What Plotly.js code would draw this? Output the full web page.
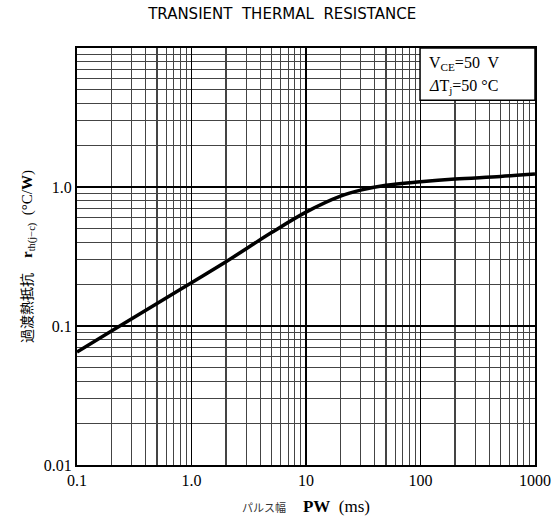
<!DOCTYPE html>
<html>
<head>
<meta charset="utf-8">
<script src="https://cdn.plot.ly/plotly-3.0.1.min.js"></script>
<style>html,body{margin:0;padding:0;background:#fff;}#chart{width:560px;height:517px;}</style>
</head>
<body>
<div id="chart"></div>
<script>
const pulseWidth = [0.1, 0.2, 0.5, 1, 2, 5, 10, 20, 30, 50, 100, 200, 500, 1000];
const thermalRes = [0.065, 0.092, 0.145, 0.205, 0.29, 0.47, 0.66, 0.86, 0.95, 1.03, 1.09, 1.14, 1.19, 1.24];
const xTickVals = [0.1, 1, 10, 100, 1000];
const xTickText = ["0.1", "1.0", "10", "100", "1000"];
const yTickVals = [0.01, 0.1, 1];
const yTickText = ["0.01", "0.1", "1.0"];

const tickFont = {family: "Liberation Serif, serif", size: 16, color: "#000"};

const trace = {
  x: pulseWidth, y: thermalRes, type: "scatter", mode: "lines",
  line: {color: "#000", width: 3.5, shape: "spline", smoothing: 1},
  hoverinfo: "skip"
};

const layout = {
  width: 560, height: 517,
  margin: {l: 77, r: 25, t: 48, b: 52},
  paper_bgcolor: "#fff", plot_bgcolor: "#fff",
  showlegend: false,
  title: {text: "TRANSIENT  THERMAL  RESISTANCE", x: 0.448, xref: "paper", xanchor: "center", y: 0.973, yanchor: "middle",
          font: {family: "DejaVu Sans, sans-serif", size: 15, color: "#000"}},
  xaxis: {
    type: "log", range: [-1, 3],
    tickvals: xTickVals, ticktext: xTickText, tickfont: tickFont,
    ticks: "", showgrid: true, gridcolor: "#000", gridwidth: 1.3,
    minor: {dtick: "D1", showgrid: true, gridcolor: "#444", gridwidth: 1.1, ticks: ""},
    showline: true, linecolor: "#000", linewidth: 2, mirror: true, zeroline: false,
    title: {text: "<span style='font-family:Noto Sans CJK JP;font-size:11px;color:#333'>パルス幅</span>    <b>PW</b>  (ms)",
            font: {family: "Liberation Serif, serif", size: 17, color: "#000"}, standoff: 12}
  },
  yaxis: {
    type: "log", range: [-2, 1],
    tickvals: yTickVals, ticktext: yTickText, tickfont: tickFont,
    ticks: "", showgrid: true, gridcolor: "#000", gridwidth: 1.3,
    minor: {dtick: "D1", showgrid: true, gridcolor: "#444", gridwidth: 1.1, ticks: ""},
    showline: true, linecolor: "#000", linewidth: 2, mirror: true, zeroline: false,
    title: {text: "<span style='font-family:Noto Sans CJK JP;font-size:14px'>過渡熱抵抗</span>    <b>r</b><sub>th(j−c)</sub>  (°C/<b>W</b>)",
            font: {family: "Liberation Serif, serif", size: 15, color: "#000"}, standoff: 8}
  },
  shapes: [{type: "rect", xref: "paper", yref: "paper", x0: 0.749, x1: 1, y0: 0.875, y1: 1,
            fillcolor: "#fff", line: {color: "#000", width: 1.5}, layer: "above"}],
  annotations: [
    {xref: "paper", yref: "paper", x: 0.765, y: 0.963, xanchor: "left", yanchor: "middle", showarrow: false,
     text: "V<sub>CE</sub>=50  V", font: {family: "Liberation Serif, serif", size: 16, color: "#000"}},
    {xref: "paper", yref: "paper", x: 0.765, y: 0.908, xanchor: "left", yanchor: "middle", showarrow: false,
     text: "<i>Δ</i>T<sub>j</sub>=50 °C", font: {family: "Liberation Serif, serif", size: 16, color: "#000"}}
  ]
};

Plotly.newPlot("chart", [trace], layout, {staticPlot: true, displayModeBar: false});
</script>
</body>
</html>
